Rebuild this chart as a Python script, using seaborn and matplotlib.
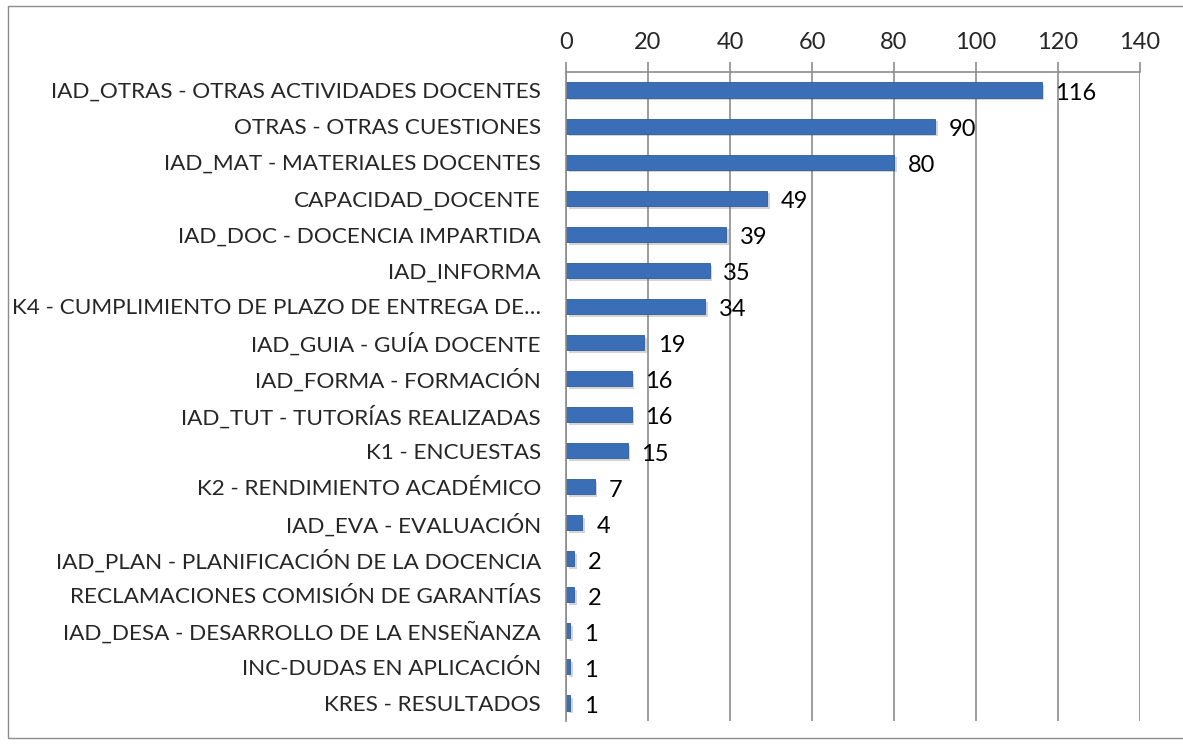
import matplotlib
matplotlib.use('Agg')
import pandas as pd
import seaborn as sns
import matplotlib.pyplot as plt
import matplotlib.patheffects as pe
from matplotlib.patches import Rectangle

# Data, top to bottom as in the chart
categories = [
    'IAD_OTRAS - OTRAS ACTIVIDADES DOCENTES',
    'OTRAS - OTRAS CUESTIONES',
    'IAD_MAT - MATERIALES DOCENTES',
    'CAPACIDAD_DOCENTE',
    'IAD_DOC - DOCENCIA IMPARTIDA',
    'IAD_INFORMA',
    'K4 - CUMPLIMIENTO DE PLAZO DE ENTREGA DE…',
    'IAD_GUIA - GUÍA DOCENTE',
    'IAD_FORMA - FORMACIÓN',
    'IAD_TUT - TUTORÍAS REALIZADAS',
    'K1 - ENCUESTAS',
    'K2 - RENDIMIENTO ACADÉMICO',
    'IAD_EVA - EVALUACIÓN',
    'IAD_PLAN - PLANIFICACIÓN DE LA DOCENCIA',
    'RECLAMACIONES COMISIÓN DE GARANTÍAS',
    'IAD_DESA - DESARROLLO DE LA ENSEÑANZA',
    'INC-DUDAS EN APLICACIÓN',
    'KRES - RESULTADOS',
]
counts = [116, 90, 80, 49, 39, 35, 34, 19, 16, 16, 15, 7, 4, 2, 2, 1, 1, 1]
x_ticks = [0, 20, 40, 60, 80, 100, 120, 140]

df = pd.DataFrame({'categoria': categories, 'total': counts})

sns.set_style('white')
plt.rcParams['font.family'] = ['Lato', 'DejaVu Sans']

fig = plt.figure(figsize=(11.83, 7.44), dpi=100)
ax = fig.add_axes([566 / 1183, 1 - 721 / 744, (1140 - 566) / 1183, (721 - 72) / 744])

sns.barplot(data=df, y='categoria', x='total', orient='h', color='#3A6FB7',
            width=0.42, saturation=1, ax=ax)

# bar shadow like the Excel original
for bar in ax.patches:
    bar.set_path_effects([pe.SimplePatchShadow(offset=(2, -2), alpha=0.25, shadow_rgbFace='#555555'),
                          pe.Normal()])
    bar.set_edgecolor('#2E5C9A')
    bar.set_linewidth(0.6)

# value labels, a touch below the bar centre
for cont in ax.containers:
    texts = ax.bar_label(cont, labels=[str(v) for v in counts], padding=10, fontsize=17, color='black')
    for t in texts:
        t.xyann = (10, -2.5)

gray = '#8C8C8C'
ax.set_xlim(0, 140)
ax.set_ylim(len(categories) - 0.5, -0.5)
ax.set_xticks(x_ticks)
ax.xaxis.tick_top()
ax.xaxis.set_label_position('top')
ax.tick_params(axis='x', which='major', direction='out', length=7, color=gray, width=1.2,
               labelsize=17, pad=7)
ax.grid(axis='x', color=gray, linewidth=1.2)
ax.set_axisbelow(True)

# category labels without tick marks, tick marks between categories
ax.tick_params(axis='y', which='major', length=0, labelsize=16.2, pad=18)
ax.set_yticks([i - 0.5 for i in range(len(categories) + 1)], minor=True)
ax.tick_params(axis='y', which='minor', direction='out', length=7, color=gray, width=1.2)

ax.set_xlabel('')
ax.set_ylabel('')
for side in ['right', 'bottom']:
    ax.spines[side].set_visible(False)
for side in ['top', 'left']:
    ax.spines[side].set_color(gray)
    ax.spines[side].set_linewidth(1.2)

# chart frame
fig.patches.append(Rectangle((8 / 1183, 6 / 744), 1.0, 1 - 12 / 744, transform=fig.transFigure,
                             fill=False, edgecolor='#8C8C8C', linewidth=1.0))

fig.savefig('out.png', dpi=100)
